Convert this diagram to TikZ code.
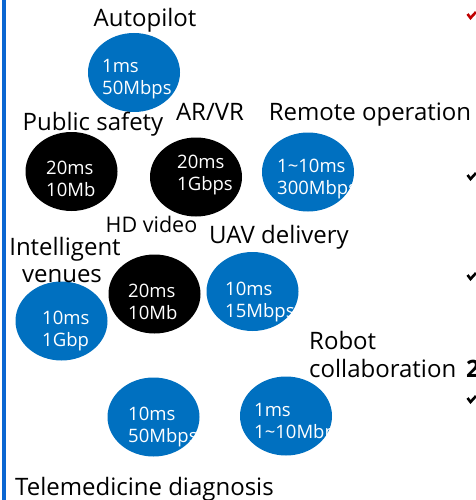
\documentclass[tikz,border=0pt]{standalone}
\usepackage{fontspec}
\setmainfont{Open Sans}
\usetikzlibrary{shapes.geometric}

\definecolor{bubbleblue}{RGB}{0,112,192}
\definecolor{railblue}{RGB}{10,102,210}
\definecolor{tickred}{RGB}{192,0,0}

\tikzset{
  lbl/.style={font=\fontsize{24}{28}\selectfont, inner sep=0pt, anchor=base},
  lblw/.style={lbl, anchor=base west},
  val/.style={font=\fontsize{18.5}{22}\selectfont, text=white, inner sep=0pt, anchor=base west},
  bubble/.style={ellipse, inner sep=0pt, minimum width=92pt, minimum height=79pt},
  tick/.style={line width=2.6pt, line join=miter}
}

% one use-case bubble: name, colour, centre x, centre y, text x, first baseline, line 1, line 2
\newcommand{\ucbubble}[8]{%
  \node[bubble, fill=#2] (#1) at (#3,#4) {};
  \begin{scope}
    \clip (#1.center) ellipse [x radius=46pt, y radius=39.5pt];
    \node[val] (#1-lat) at (#5,#6) {#7};
    \node[val] (#1-bw) at (#5,#6+22) {#8};
  \end{scope}}

\begin{document}
\begin{tikzpicture}[x=1pt, y=-1pt]
  \useasboundingbox (0,0) rectangle (475,500);

  % left rule
  \fill[railblue] (2,0) rectangle (6,500);

  % bubbles
  \ucbubble{ap}{bubbleblue}{134}{72.5}{102}{73}{1ms}{50Mbps}
  \ucbubble{ps}{black}{71.5}{171.5}{46}{174}{20ms}{10Mb}
  \ucbubble{ar}{black}{196}{177}{177}{168}{20ms}{1Gbps}
  \ucbubble{ro}{bubbleblue}{308}{172}{277}{172}{1\textasciitilde10ms}{300Mbps}
  \ucbubble{iv}{bubbleblue}{61.5}{321}{42}{324}{10ms}{1Gbp}
  \ucbubble{hd}{black}{154.5}{294}{128}{297}{20ms}{10Mb}
  \ucbubble{ua}{bubbleblue}{252.5}{291.5}{225}{295}{10ms}{15Mbps}
  \ucbubble{tm}{bubbleblue}{153.5}{417}{128}{420}{10ms}{50Mbps}
  \ucbubble{rc}{bubbleblue}{286}{416}{254}{416}{1ms}{1\textasciitilde10Mbps}

  % labels
  \node[lbl] (lab-ap) at (145,27) {Autopilot};
  \node[lbl] (lab-ps) at (93,130) {Public safety};
  \node[lbl] (lab-ar) at (210,121) {AR/VR};
  \node[lbl] (lab-ro) at (370,121) {Remote operation};
  \node[lbl, font=\fontsize{21.5}{25}\selectfont] (lab-hd) at (151.5,232) {HD video};
  \node[lbl] (lab-ua) at (279,243) {UAV delivery};
  \node[lbl] (lab-iv1) at (65,255) {Intelligent};
  \node[lbl] (lab-iv2) at (62,282) {venues};
  \node[lblw] (lab-rc1) at (309,349) {Robot};
  \node[lblw] (lab-rc2) at (309,377) {collaboration};
  \node[lblw] (lab-tm) at (15,495) {Telemedicine diagnosis};
  \node[lblw, font=\fontsize{24}{28}\selectfont\bfseries] (num) at (466,377) {2};

  % check marks at the right edge
  \draw[tick, tickred] (467.5,14) -- (470.5,18) -- (476,12);
  \draw[tick] (467.5,175) -- (470.5,179) -- (476,173);
  \draw[tick] (467.5,275) -- (470.5,279) -- (476,273);
  \draw[tick] (467.5,398) -- (470.5,402) -- (476,396);
\end{tikzpicture}
\end{document}
